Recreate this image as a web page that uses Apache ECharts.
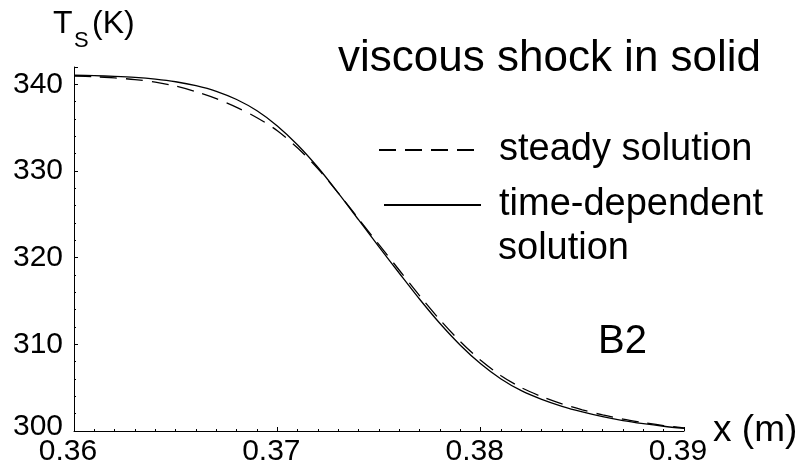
<!DOCTYPE html>
<html>
<head>
<meta charset="utf-8">
<script src="https://cdn.jsdelivr.net/npm/echarts@6/dist/echarts.min.js"></script>
<style>
  html, body { margin: 0; padding: 0; background: #fff; }
  #chart { width: 807px; height: 462px; }
</style>
</head>
<body>
<div id="chart"></div>
<script>
// x positions (m)
var xs = [0.360, 0.361, 0.362, 0.363, 0.364, 0.365, 0.366, 0.367, 0.368, 0.369,
          0.370, 0.371, 0.372, 0.373, 0.374, 0.375, 0.376, 0.377, 0.378, 0.379,
          0.380, 0.381, 0.382, 0.383, 0.384, 0.385, 0.386, 0.387, 0.388, 0.389, 0.390];

// steady solution, Ts (K)
var steady = [340.95, 340.88, 340.74, 340.55, 340.25, 339.80, 339.15, 338.35, 337.35, 336.15,
              334.65, 332.65, 330.25, 327.45, 324.47, 321.50, 318.55, 315.60, 312.82, 310.32,
              308.15, 306.38, 305.00, 303.97, 303.13, 302.44, 301.85, 301.36, 300.97, 300.63, 300.35];

// time-dependent solution, Ts (K)
var timeDep = [341.05, 341.00, 340.92, 340.80, 340.60, 340.30, 339.85, 339.20, 338.25, 336.95,
               335.20, 333.00, 330.40, 327.45, 324.35, 321.25, 318.20, 315.20, 312.40, 309.90,
               307.75, 306.00, 304.65, 303.65, 302.85, 302.20, 301.65, 301.20, 300.85, 300.55, 300.30];

var yTicks = [300, 310, 320, 330, 340];

var font = "'Liberation Sans', Arial, sans-serif";

function pairs(ys) {
    var out = [];
    for (var i = 0; i < xs.length; i++) {
        out.push([xs[i], ys[i]]);
    }
    return out;
}

var myChart = echarts.init(document.getElementById('chart'));

var option = {
    backgroundColor: '#fff',
    animation: false,
    grid: { left: 74, right: 123, top: 67, bottom: 31, containLabel: false, outerBoundsMode: 'none' },
    title: {
        text: 'viscous shock in solid',
        left: 333, top: 32,
        textStyle: { fontFamily: font, fontSize: 44, fontWeight: 'normal', color: '#000' }
    },
    graphic: [
        { type: 'text', left: 53, top: 8, style: { text: 'T', font: '32px ' + font, fill: '#000' } },
        { type: 'text', left: 74, top: 30, style: { text: 'S', font: '22px ' + font, fill: '#000' } },
        { type: 'text', left: 92, top: 8, style: { text: '(K)', font: '32px ' + font, fill: '#000' } },
        // second line of the time-dependent legend entry
        { type: 'text', left: 498, top: 230, style: { text: 'solution', font: '38px ' + font, fill: '#000' } },
        { type: 'text', left: 598, top: 322, style: { text: 'B2', font: '40px ' + font, fill: '#000' } }
    ],
    legend: [{
        data: ['steady solution'],
        left: 378, top: 131, padding: 0,
        itemWidth: 100, itemHeight: 4,
        itemStyle: { opacity: 0 },
        textStyle: { fontFamily: font, fontSize: 38, color: '#000', padding: [0, 0, 0, 15] }
    }, {
        data: ['time-dependent solution'],
        formatter: function () { return 'time-dependent'; },
        left: 383, top: 186, padding: 0,
        itemWidth: 97, itemHeight: 4,
        itemStyle: { opacity: 0 },
        textStyle: { fontFamily: font, fontSize: 38, color: '#000', padding: [0, 0, 0, 13] }
    }],
    xAxis: {
        type: 'value',
        min: 0.36, max: 0.39, interval: 0.01,
        name: 'x (m)',
        nameLocation: 'end', nameGap: 28,
        nameTextStyle: { fontFamily: font, fontSize: 37, color: '#000', verticalAlign: 'middle', padding: [34, 0, 0, 0] },
        axisLine: { lineStyle: { color: '#000', width: 1 } },
        axisTick: { inside: true, length: 4, lineStyle: { color: '#000' } },
        minorTick: { show: true, splitNumber: 10, length: 2, lineStyle: { color: '#000' } },
        splitLine: { show: false },
        axisLabel: {
            fontFamily: font, fontSize: 30, color: '#000', margin: 6,
            padding: [0, 12, 0, 0],
            formatter: function (v) { return v.toFixed(2); }
        }
    },
    yAxis: {
        type: 'value',
        min: 300, max: 342, interval: 10,
        axisLine: { show: true, lineStyle: { color: '#000', width: 1 } },
        axisTick: { show: true, inside: true, length: 4, lineStyle: { color: '#000' } },
        minorTick: { show: true, splitNumber: 5, length: 2, lineStyle: { color: '#000' } },
        splitLine: { show: false },
        axisLabel: {
            fontFamily: font, fontSize: 30, color: '#000', margin: 11,
            showMaxLabel: false,
            formatter: function (v) {
                if (yTicks.indexOf(v) < 0) return '';
                return v === 300 ? '{lo|300}' : String(v);
            },
            rich: { lo: { fontFamily: font, fontSize: 30, color: '#000', padding: [0, 0, 8, 0] } }
        }
    },
    series: [{
        name: 'steady solution',
        type: 'line',
        data: pairs(steady),
        showSymbol: false, symbol: 'none',
        smooth: 0.3,
        lineStyle: { color: '#000', width: 1.3, type: [17, 9] },
        itemStyle: { color: '#000' }
    }, {
        name: 'time-dependent solution',
        type: 'line',
        data: pairs(timeDep),
        showSymbol: false, symbol: 'none',
        smooth: 0.3,
        lineStyle: { color: '#000', width: 1.3, type: 'solid' },
        itemStyle: { color: '#000' }
    }]
};

myChart.setOption(option);
</script>
</body>
</html>
